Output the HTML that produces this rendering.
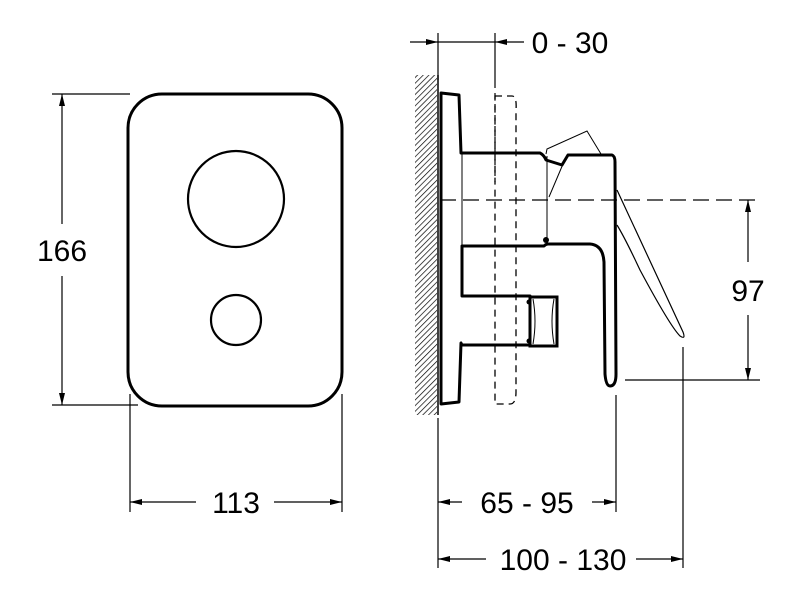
<!DOCTYPE html>
<html><head><style>html,body{margin:0;padding:0;background:#fff;}svg{display:block}</style></head>
<body>
<svg width="800" height="600" viewBox="0 0 800 600" xmlns="http://www.w3.org/2000/svg">
<defs>
<marker id="a" viewBox="0 0 12 6" refX="12" refY="3" markerWidth="12" markerHeight="6" orient="auto-start-reverse" markerUnits="userSpaceOnUse"><path d="M0,0 L12,3 L0,6 Z" fill="#000"/></marker>
<pattern id="h" width="4" height="4" patternUnits="userSpaceOnUse" patternTransform="rotate(45)"><line x1="0" y1="0" x2="0" y2="4" stroke="#000" stroke-width="1.4"/></pattern>
</defs>
<g font-family="Liberation Sans, sans-serif" font-size="30" fill="#000" text-anchor="middle">
<rect x="128" y="94" width="214" height="312" rx="34" fill="none" stroke="#000" stroke-width="3"/>
<circle cx="236" cy="199" r="48" fill="none" stroke="#000" stroke-width="2.2"/>
<circle cx="236" cy="320" r="25" fill="none" stroke="#000" stroke-width="2.2"/>
<g stroke="#000" stroke-width="1.2">
<line x1="52" y1="94" x2="130" y2="94"/><line x1="52" y1="405" x2="138" y2="405"/>
<line x1="62" y1="94" x2="62" y2="224" marker-start="url(#a)"/><line x1="62" y1="276" x2="62" y2="405" marker-end="url(#a)"/>
<line x1="130" y1="394" x2="130" y2="512"/><line x1="342" y1="394" x2="342" y2="512"/>
<line x1="130" y1="502" x2="196" y2="502" marker-start="url(#a)"/><line x1="274" y1="502" x2="342" y2="502" marker-end="url(#a)"/>
</g>
<text x="62" y="261">166</text>
<text x="236" y="513">113</text>

<rect x="415" y="75" width="22" height="340" fill="url(#h)"/>
<line x1="438" y1="75" x2="438" y2="415" stroke="#000" stroke-width="1.5"/>
<path d="M495,96 L512,96 Q517,96 516,110 L516,392 Q516,404 510,404 L495,404 Z" fill="none" stroke="#000" stroke-width="1.3" stroke-dasharray="7,5"/>
<path d="M441,93 L459,95 L461,153 L540,153 Q544,155 546,160 L562,165 L568,155 L612,155 Q615,156 615,162 L616,374 Q616,386 610,386 Q606,386 605,374 L604,262 Q603,245 590,244 L548,244 Q546,244 544,246 L462,246 L462,296 L530,296 L530,345 L462,345 L461,343 L459,402 L441,404 Z" fill="none" stroke="#000" stroke-width="3" stroke-linejoin="round"/>
<line x1="462" y1="153" x2="462" y2="246" stroke="#000" stroke-width="1"/>
<line x1="547" y1="156" x2="547" y2="244" stroke="#000" stroke-width="1"/>
<circle cx="546" cy="240" r="3" fill="#000"/>
<rect x="530" y="297" width="27" height="49" fill="none" stroke="#000" stroke-width="3"/>
<path d="M533,299 Q537,321 533,344 M554,299 Q550,321 554,344" fill="none" stroke="#000" stroke-width="1"/>
<circle cx="529" cy="302" r="2.5" fill="#000"/><circle cx="529" cy="341" r="2.5" fill="#000"/>
<path d="M546,154 L547,149 L587,131 L601,154 M563,164 L549,197" fill="none" stroke="#000" stroke-width="1"/>
<path d="M617,190 L683,332 Q686,340 680,336 Q670,326 640,270 Q625,238 617,225" fill="none" stroke="#000" stroke-width="1.2"/>
<line x1="440" y1="200" x2="760" y2="200" stroke="#000" stroke-width="1.3" stroke-dasharray="16,7"/>
<g stroke="#000" stroke-width="1.2">
<line x1="438" y1="33" x2="438" y2="80"/>
<line x1="495" y1="33" x2="495" y2="82"/>
<line x1="495" y1="82" x2="495" y2="182" stroke-dasharray="6,5"/>
<line x1="410" y1="42" x2="438" y2="42" marker-end="url(#a)"/>
<line x1="438" y1="42" x2="495" y2="42"/>
<line x1="524" y1="42" x2="495" y2="42" marker-end="url(#a)"/>
<line x1="748" y1="200" x2="748" y2="262" marker-start="url(#a)"/>
<line x1="748" y1="315" x2="748" y2="380" marker-end="url(#a)"/>
<line x1="625" y1="380" x2="760" y2="380"/>
<line x1="438" y1="418" x2="438" y2="568"/>
<line x1="616" y1="395" x2="616" y2="512"/>
<line x1="683" y1="347" x2="683" y2="568"/>
<line x1="438" y1="502" x2="462" y2="502" marker-start="url(#a)"/>
<line x1="592" y1="502" x2="616" y2="502" marker-end="url(#a)"/>
<line x1="438" y1="559" x2="486" y2="559" marker-start="url(#a)"/>
<line x1="636" y1="559" x2="683" y2="559" marker-end="url(#a)"/>
</g>
<text x="570" y="53">0 - 30</text>
<text x="748" y="301">97</text>
<text x="527" y="513">65 - 95</text>
<text x="563" y="570">100 - 130</text>
</g>
</svg>
</body></html>
